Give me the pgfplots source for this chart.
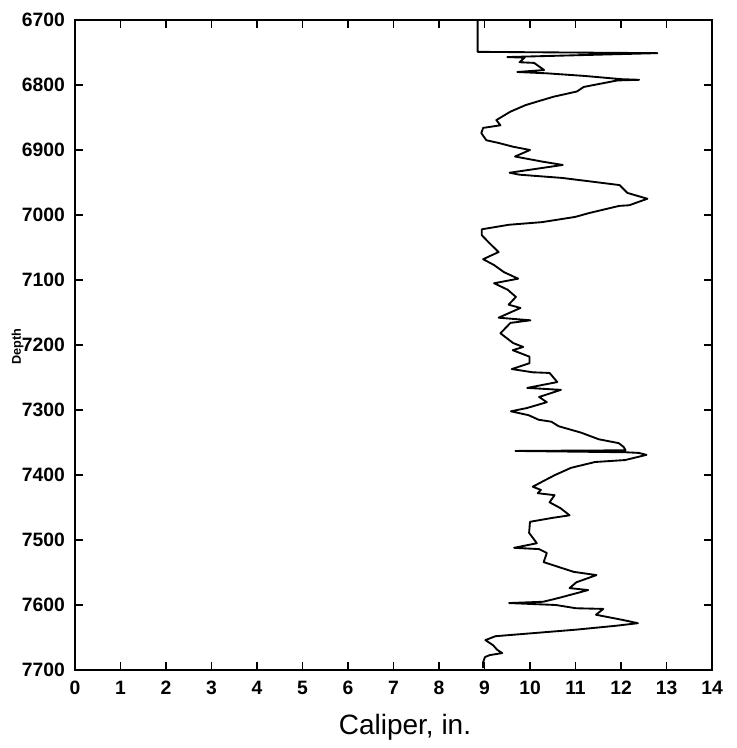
\documentclass[border=0pt]{standalone}
\usepackage{fontspec}
\setmainfont{Liberation Sans}
\usepackage{pgfplots}
\pgfplotsset{compat=1.18}
\begin{document}
\begin{tikzpicture}
\useasboundingbox (0pt,0pt) rectangle (552pt,561pt);
\begin{axis}[
    at={(56.25pt,58.5pt)}, anchor=south west,
    scale only axis,
    width=477.75pt, height=487.5pt,
    xmin=0, xmax=14,
    ymin=6700, ymax=7700,
    y dir=reverse,
    xtick={0,1,...,14},
    ytick={6700,6800,...,7700},
    tick align=inside,
    major tick length=6pt,
    axis line style={line width=1.8pt},
    every tick/.style={black, line width=1.4pt},
    /pgf/number format/assume math mode=true,
    /pgf/number format/1000 sep={},
    ticklabel style={font=\fontsize{14.5}{16}\selectfont\bfseries},
    yticklabel style={xshift=-4pt},
    xticklabel style={yshift=-5pt},
    xlabel={Caliper, in.},
    xlabel style={at={(axis description cs:0.518,-0.088)}, anchor=center,
        font=\fontsize{21}{24}\selectfont},
    clip=false,
]
\addplot[black, line width=1.4pt, line join=round] coordinates {
(8.85,6700)(8.85,6749)(12.8,6751)(9.50,6757)(9.88,6758)(9.77,6765)(10.09,6766)
(10.31,6777)(9.72,6780)(10.36,6782)(11.19,6786)(12.0,6791)(12.4,6792)(11.92,6793)
(11.18,6803)(11.03,6810)(10.52,6818)(10.23,6824)(9.90,6831)(9.57,6841)(9.26,6854)
(9.35,6862)(8.97,6866)(8.93,6874)(9.04,6885)(9.30,6889)(9.63,6895)(10.0,6900)
(9.67,6910)(10.28,6918)(10.72,6923)(9.55,6935)(9.77,6938)(10.71,6943)(11.97,6954)
(12.14,6966)(12.53,6974)(12.58,6975)(12.18,6985)(11.96,6986)(11.30,6997)(10.99,7003)
(10.26,7011)(9.54,7015)(8.94,7022)(8.94,7031)(9.09,7042)(9.31,7057)(8.97,7068)
(9.21,7077)(9.43,7088)(9.74,7098)(9.21,7105)(9.51,7115)(9.69,7126)(9.53,7138)
(9.79,7143)(9.31,7158)(10.01,7162)(9.57,7166)(9.35,7182)(9.63,7197)(9.85,7203)
(9.62,7208)(9.99,7218)(9.99,7228)(9.60,7237)(10.06,7242)(10.43,7243)(10.60,7257)
(9.94,7266)(10.68,7269)(10.20,7280)(10.37,7288)(9.93,7297)(9.58,7302)(9.97,7308)
(10.19,7315)(10.47,7318)(10.63,7325)(11.13,7335)(11.51,7345)(11.95,7351)(12.06,7357)
(12.10,7362)(9.68,7363)(12.10,7365)(12.39,7366)(12.56,7369)(12.09,7377)(11.43,7380)
(10.90,7389)(10.55,7400)(10.33,7408)(10.06,7418)(10.24,7423)(10.17,7428)(10.54,7431)
(10.43,7442)(10.67,7451)(10.87,7462)(10.49,7466)(10.0,7472)(9.98,7489)(10.15,7505)
(9.65,7512)(10.20,7514)(10.37,7520)(10.30,7534)(10.65,7542)(10.96,7549)(11.46,7554)
(11.02,7565)(10.87,7574)(11.28,7577)(10.64,7589)(10.29,7595)(9.54,7597)(10.57,7600)
(11.01,7605)(11.61,7606)(11.45,7615)(12.04,7623)(12.37,7628)(11.88,7632)(11.0,7638)
(10.12,7643)(9.24,7648)(9.02,7654)(9.19,7662)(9.28,7669)(9.39,7674)(9.12,7677)
(9.01,7680)(8.97,7688)(8.97,7697)
};
\node[rotate=90, anchor=center, inner sep=0pt, font=\fontsize{9.5}{10}\selectfont\bfseries]
    at (axis description cs:-0.09,0.497) {Depth};
\end{axis}
\end{tikzpicture}
\end{document}
